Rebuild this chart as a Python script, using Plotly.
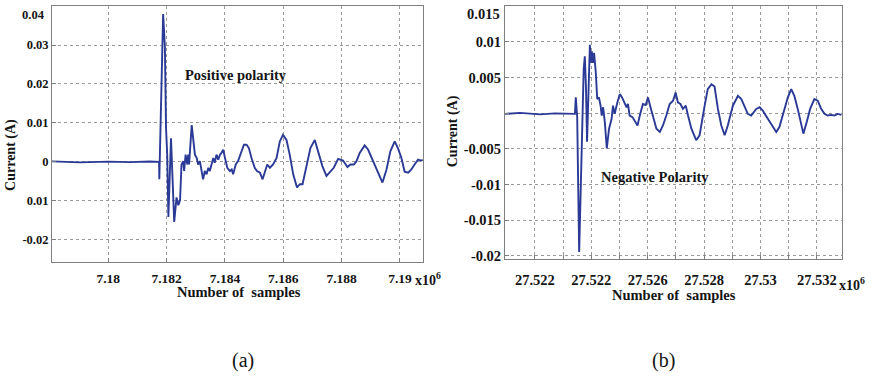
import plotly.graph_objects as go

# ---------------- data: panel (a) positive polarity ----------------
samples_a = [7.17807, 7.17903, 7.18, 7.18074, 7.18143, 7.18174, 7.18175, 7.18188, 7.18194, 7.18198,
             7.18202, 7.18206, 7.18215, 7.18221, 7.18226, 7.18234, 7.18240, 7.18246, 7.18251, 7.18257,
             7.18260, 7.18265, 7.18271, 7.18274, 7.18277, 7.18286, 7.18291, 7.18297, 7.18303, 7.18308,
             7.18314, 7.18320, 7.18325, 7.18331, 7.18337, 7.18343, 7.18348, 7.18354, 7.18360, 7.18365,
             7.18371, 7.18377, 7.18383, 7.18388, 7.18394, 7.18400, 7.18408, 7.18417, 7.18423, 7.18428,
             7.18437, 7.18445, 7.18457, 7.18465, 7.18474, 7.18482, 7.18491, 7.18502, 7.18510, 7.18520,
             7.18529, 7.18537, 7.18545, 7.18554, 7.18565, 7.18577, 7.18588, 7.18599, 7.18611, 7.18622,
             7.18634, 7.18647, 7.18657, 7.18666, 7.18680, 7.18693, 7.18708, 7.18719, 7.18734, 7.18748,
             7.18759, 7.18773, 7.18788, 7.18805, 7.18820, 7.18830, 7.18842, 7.18851, 7.18862, 7.18879,
             7.18891, 7.18908, 7.18925, 7.18940, 7.18954, 7.18967, 7.18982, 7.18993, 7.19005, 7.19016,
             7.19028, 7.19039, 7.19050, 7.19062, 7.19073, 7.19078]
current_a = [0.00013, -0.00013, 0.00005, -0.00008, 0.0001, 0.0, -0.00448, 0.03795, 0.02968, 0.0086,
             0.00185, -0.01417, 0.00607, -0.00911, -0.01543, -0.00911, -0.01113, -0.00987, -0.00068, 0.00018,
             -0.00235, 0.00185, -0.00068, 0.00185, -0.00068, 0.00944, 0.00524, 0.00185, 0.00101, -0.00068,
             0.00018, -0.00235, -0.00448, -0.00235, -0.00321, -0.00152, -0.00235, -0.00068, 0.00101, -0.00025,
             0.00185, 0.00058, 0.00185, 0.00228, 0.00311, 0.00101, -0.00152, -0.00235, -0.00195, -0.00321,
             -0.00068, 0.00018, 0.00271, 0.00438, 0.00438, 0.00354, 0.00101, -0.00152, -0.00235, -0.00278,
             -0.00448, -0.00235, -0.00068, -0.00152, -0.00068, 0.00101, 0.00524, 0.00691, 0.00564, 0.00185,
             -0.00321, -0.00658, -0.00574, -0.00574, -0.00068, 0.00354, 0.00564, 0.00271, -0.00109, -0.00362,
             -0.00278, -0.00152, 0.00076, 0.00033, -0.00134, -0.00068, -0.00068, 0.00018, 0.00228, 0.00423,
             0.00311, 0.00018, -0.00278, -0.00531, -0.00195, 0.00271, 0.00524, 0.00354, 0.00101, -0.00253,
             -0.00278, -0.00195, -0.00068, 0.00058, 0.00033, 0.00051]

# ---------------- data: panel (b) negative polarity ----------------
samples_b = [27.52094, 27.52147, 27.52218, 27.52271, 27.52342, 27.52345, 27.52350, 27.52357, 27.52365, 27.52373,
             27.52377, 27.52381, 27.52385, 27.52390, 27.52395, 27.52398, 27.52402, 27.52406, 27.52410, 27.52416,
             27.52421, 27.52427, 27.52433, 27.52437, 27.52442, 27.52448, 27.52455, 27.52463, 27.52472, 27.52477,
             27.52483, 27.52491, 27.52501, 27.52509, 27.52516, 27.52525, 27.52530, 27.52536, 27.52546, 27.52555,
             27.52564, 27.52572, 27.52583, 27.52593, 27.52601, 27.52610, 27.52619, 27.52631, 27.52643, 27.52654,
             27.52666, 27.52678, 27.52690, 27.52699, 27.52707, 27.52716, 27.52725, 27.52735, 27.52743, 27.52755,
             27.52772, 27.52784, 27.52802, 27.52813, 27.52826, 27.52837, 27.52849, 27.52861, 27.52873, 27.52884,
             27.52902, 27.52920, 27.52932, 27.52943, 27.52955, 27.52967, 27.52985, 27.52997, 27.53008, 27.53026,
             27.53044, 27.53056, 27.53067, 27.53082, 27.53097, 27.53109, 27.53120, 27.53132, 27.53144, 27.53152,
             27.53164, 27.53176, 27.53191, 27.53203, 27.53215, 27.53227, 27.53238, 27.53250, 27.53262, 27.53274,
             27.53287]
current_b = [-0.0001, 0.00004, -0.00017, -0.00003, -0.0001, 0.00222, -0.00051, -0.01949, -0.00679, 0.00614,
             0.00798, 0.00382, -0.00402, 0.00382, 0.0096, 0.00706, 0.00867, 0.00706, 0.00845, 0.00568,
             0.00198, 0.00222, 0.00105, -0.00033, 0.00083, -0.00125, -0.00494, -0.00217, -0.00079, 0.00105,
             -0.0001, 0.00129, 0.00267, 0.00222, 0.00152, 0.00083, 0.00129, -0.00033, -0.00055, -0.00125,
             -0.00172, -0.00033, 0.00129, 0.00115, 0.00222, 0.00083, -0.00033, -0.00217, -0.00263, -0.00172,
             -0.00033, 0.00129, 0.00175, 0.00291, 0.00152, 0.00129, 0.0006, 0.00105, -0.00033, -0.00217,
             -0.00379, -0.0031, 0.00105, 0.00337, 0.00406, 0.00374, 0.0006, -0.00172, -0.0031, -0.00172,
             0.00105, 0.00244, 0.00198, 0.00105, -0.0001, -0.00033, 0.0006, 0.00083, 0.00036, -0.00079,
             -0.00194, -0.00263, -0.00194, 0.00014, 0.00222, 0.00337, 0.00244, 0.0006, -0.00172, -0.00287,
             -0.00125, 0.0006, 0.00198, 0.00175, 0.0006, -0.0001, -0.00033, -0.00024, -0.00033, -0.0001,
             -0.00024]

# ---------------- ticks ----------------
xtick_vals_a = [7.18, 7.182, 7.184, 7.186, 7.188, 7.19]
xtick_text_a = ["7.18", "7.182", "7.184", "7.186", "7.188", "7.19"]
ytick_vals_a = [0.04, 0.03, 0.02, 0.01, 0.0, -0.01, -0.02]
ytick_text_a = ["0.04", "0.03", "0.02", "0.01", "0", "0.01", "-0.02"]

xtick_vals_b = [27.522, 27.523, 27.524, 27.525, 27.526, 27.527, 27.528, 27.529, 27.530, 27.531, 27.532]
xtick_text_b = ["27.522", "", "27.522", "", "27.526", "", "27.528", "", "27.53", "", "27.532"]
ytick_vals_b = [0.015, 0.01, 0.005, 0.0, -0.005, -0.01, -0.015, -0.02]
ytick_text_b = ["0.015", "0.01", "0.005", "", "-0.005", "-0.01", "-0.015", "-0.02"]

W, H = 872, 382
LINE = "#2B3A96"
SERIF = "Liberation Serif, Times New Roman, Times, serif"
TXT = "#141414"

fig = go.Figure()
fig.add_trace(go.Scatter(x=samples_a, y=current_a, mode="lines",
                         line=dict(color=LINE, width=1.9), xaxis="x", yaxis="y", showlegend=False))
fig.add_trace(go.Scatter(x=samples_b, y=current_b, mode="lines",
                         line=dict(color=LINE, width=1.9), xaxis="x2", yaxis="y2", showlegend=False))

def px_x(p):
    return p / W

def px_y(p):
    return 1 - p / H

axis_common = dict(showline=True, mirror=True, linecolor="#808080", linewidth=1,
                   showgrid=True, gridcolor="#9a9a9a", griddash="dot", gridwidth=1,
                   ticks="inside", ticklen=4, tickcolor="#808080", zeroline=False)

# top-most tick labels sit slightly lower than their gridline in the reference -> drawn as annotations
ytick_text_a_axis = [""] + ytick_text_a[1:]
ytick_text_b_axis = [""] + ytick_text_b[1:]

fig.update_layout(
    width=W, height=H, margin=dict(l=0, r=0, t=0, b=0),
    paper_bgcolor="white", plot_bgcolor="white",
    xaxis=dict(domain=[px_x(52), px_x(423)], range=[7.17807, 7.19079], anchor="y",
               tickvals=xtick_vals_a, ticktext=xtick_text_a, ticklabelstandoff=4,
               tickfont=dict(family=SERIF, size=13.5, color=TXT, weight="bold"), **axis_common),
    yaxis=dict(domain=[px_y(265), px_y(6)], range=[-0.0256, 0.04005], anchor="x",
               tickvals=ytick_vals_a, ticktext=ytick_text_a_axis,
               tickfont=dict(family=SERIF, size=12.5, color=TXT, weight="bold"), **axis_common),
    xaxis2=dict(domain=[px_x(505), px_x(842)], range=[27.52094, 27.53289], anchor="y2",
                tickvals=xtick_vals_b, ticktext=xtick_text_b, ticklabelstandoff=8,
                tickfont=dict(family=SERIF, size=14.5, color=TXT, weight="bold"), **axis_common),
    yaxis2=dict(domain=[px_y(262), px_y(6)], range=[-0.0204, 0.01505], anchor="x2",
                tickvals=ytick_vals_b, ticktext=ytick_text_b_axis,
                tickfont=dict(family=SERIF, size=14.5, color=TXT, weight="bold"), **axis_common),
)

def note(text, x, y, size, bold=True, angle=0, xanchor="center"):
    fig.add_annotation(text=text, x=px_x(x), y=px_y(y), xref="paper", yref="paper",
                       showarrow=False, textangle=angle, xanchor=xanchor, yanchor="middle",
                       font=dict(family=SERIF, size=size, color=TXT, weight="bold" if bold else "normal"))

note(ytick_text_a[0], 47, 15, 12.5, xanchor="right")
note(ytick_text_b[0], 502, 14, 14.5, xanchor="right")
note("Positive polarity", 236, 76, 14.5)
note("Negative Polarity", 655, 179, 14.5)
note("Current (A)", 11, 157, 14, angle=-90)
note("Current (A)", 453, 133, 14, angle=-90)
note("Number of  samples", 239, 296, 14.5)
note("Number of  samples", 674, 299, 14.5)
note("x10<sup>6</sup>", 428, 283, 14)
note("x10<sup>6</sup>", 852, 288, 14)
note("(a)", 243, 365, 20, bold=False)
note("(b)", 663, 365, 20, bold=False)

fig.write_html("out.html")
